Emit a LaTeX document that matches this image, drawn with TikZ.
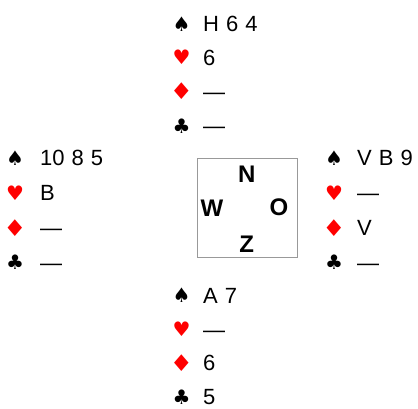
\documentclass[tikz,border=0pt]{standalone}
\usepackage{fontspec}
\setmainfont{Liberation Sans}
\newfontfamily\suitfont{DejaVu Sans}
\newcommand{\cardtextfont}{\fontsize{22}{22}\selectfont\spaceskip 7pt\relax}
\begin{document}
\begin{tikzpicture}[x=1pt,y=-1pt,
  cards/.style={anchor=base west,inner sep=0pt,text=black,
    font=\cardtextfont},
  blacksuit/.style={anchor=center,inner sep=0pt,text=black,
    font=\suitfont\fontsize{20}{20}\selectfont},
  redsuit/.style={blacksuit,text=red},
  widesuit/.style={redsuit,font=\suitfont\fontsize{23}{23}\selectfont,xscale=1.12},
  wind/.style={anchor=center,inner sep=0pt,text=black,
    font=\fontsize{24}{24}\selectfont\bfseries},
  tablebox/.style={draw=black!40,line width=1pt}]
\useasboundingbox (0,0) rectangle (418,408);

% table
\draw[tablebox] (197,158) rectangle (297,257);
\node[wind] (n) at (246.7,174.7) {N};
\node[wind] (w) at (212,208.5) {W};
\node[wind] (o) at (279,207.5) {O};
\node[wind] (z) at (246.7,244) {Z};

% North
\node[blacksuit] (ns) at (181.5,24) {♠};
\node[cards] (nst) at (203,31.5) {H 6 4};
\node[redsuit] (nh) at (181.5,57.5) {♥};
\node[cards] (nht) at (203,65) {6};
\node[widesuit] (nd) at (181.5,91.5) {♦};
\node[cards] (ndt) at (203,99) {—};
\node[blacksuit] (nc) at (181.5,126) {♣};
\node[cards] (nct) at (203,133.5) {—};

% West
\node[blacksuit] (ws) at (15,158) {♠};
\node[cards] (wst) at (40,165.5) {10 8 5};
\node[redsuit] (wh) at (15,193) {♥};
\node[cards] (wht) at (40,200.5) {B};
\node[widesuit] (wd) at (15,228) {♦};
\node[cards] (wdt) at (40,235.5) {—};
\node[blacksuit] (wc) at (15,262.5) {♣};
\node[cards] (wct) at (40,270) {—};

% East
\node[blacksuit] (es) at (334,158) {♠};
\node[cards] (est) at (357,165.5) {V B 9};
\node[redsuit] (eh) at (334,193) {♥};
\node[cards] (eht) at (357,200.5) {—};
\node[widesuit] (ed) at (334,228) {♦};
\node[cards] (edt) at (357,235.5) {V};
\node[blacksuit] (ec) at (334,262.5) {♣};
\node[cards] (ect) at (357,270) {—};

% South
\node[blacksuit] (ss) at (181.5,295.5) {♠};
\node[cards] (sst) at (203,303) {A 7};
\node[redsuit] (sh) at (181.5,329.5) {♥};
\node[cards] (sht) at (203,337) {—};
\node[widesuit] (sd) at (181.5,363) {♦};
\node[cards] (sdt) at (203,370.5) {6};
\node[blacksuit] (sc) at (181.5,397) {♣};
\node[cards] (sct) at (203,404.5) {5};
\end{tikzpicture}
\end{document}
